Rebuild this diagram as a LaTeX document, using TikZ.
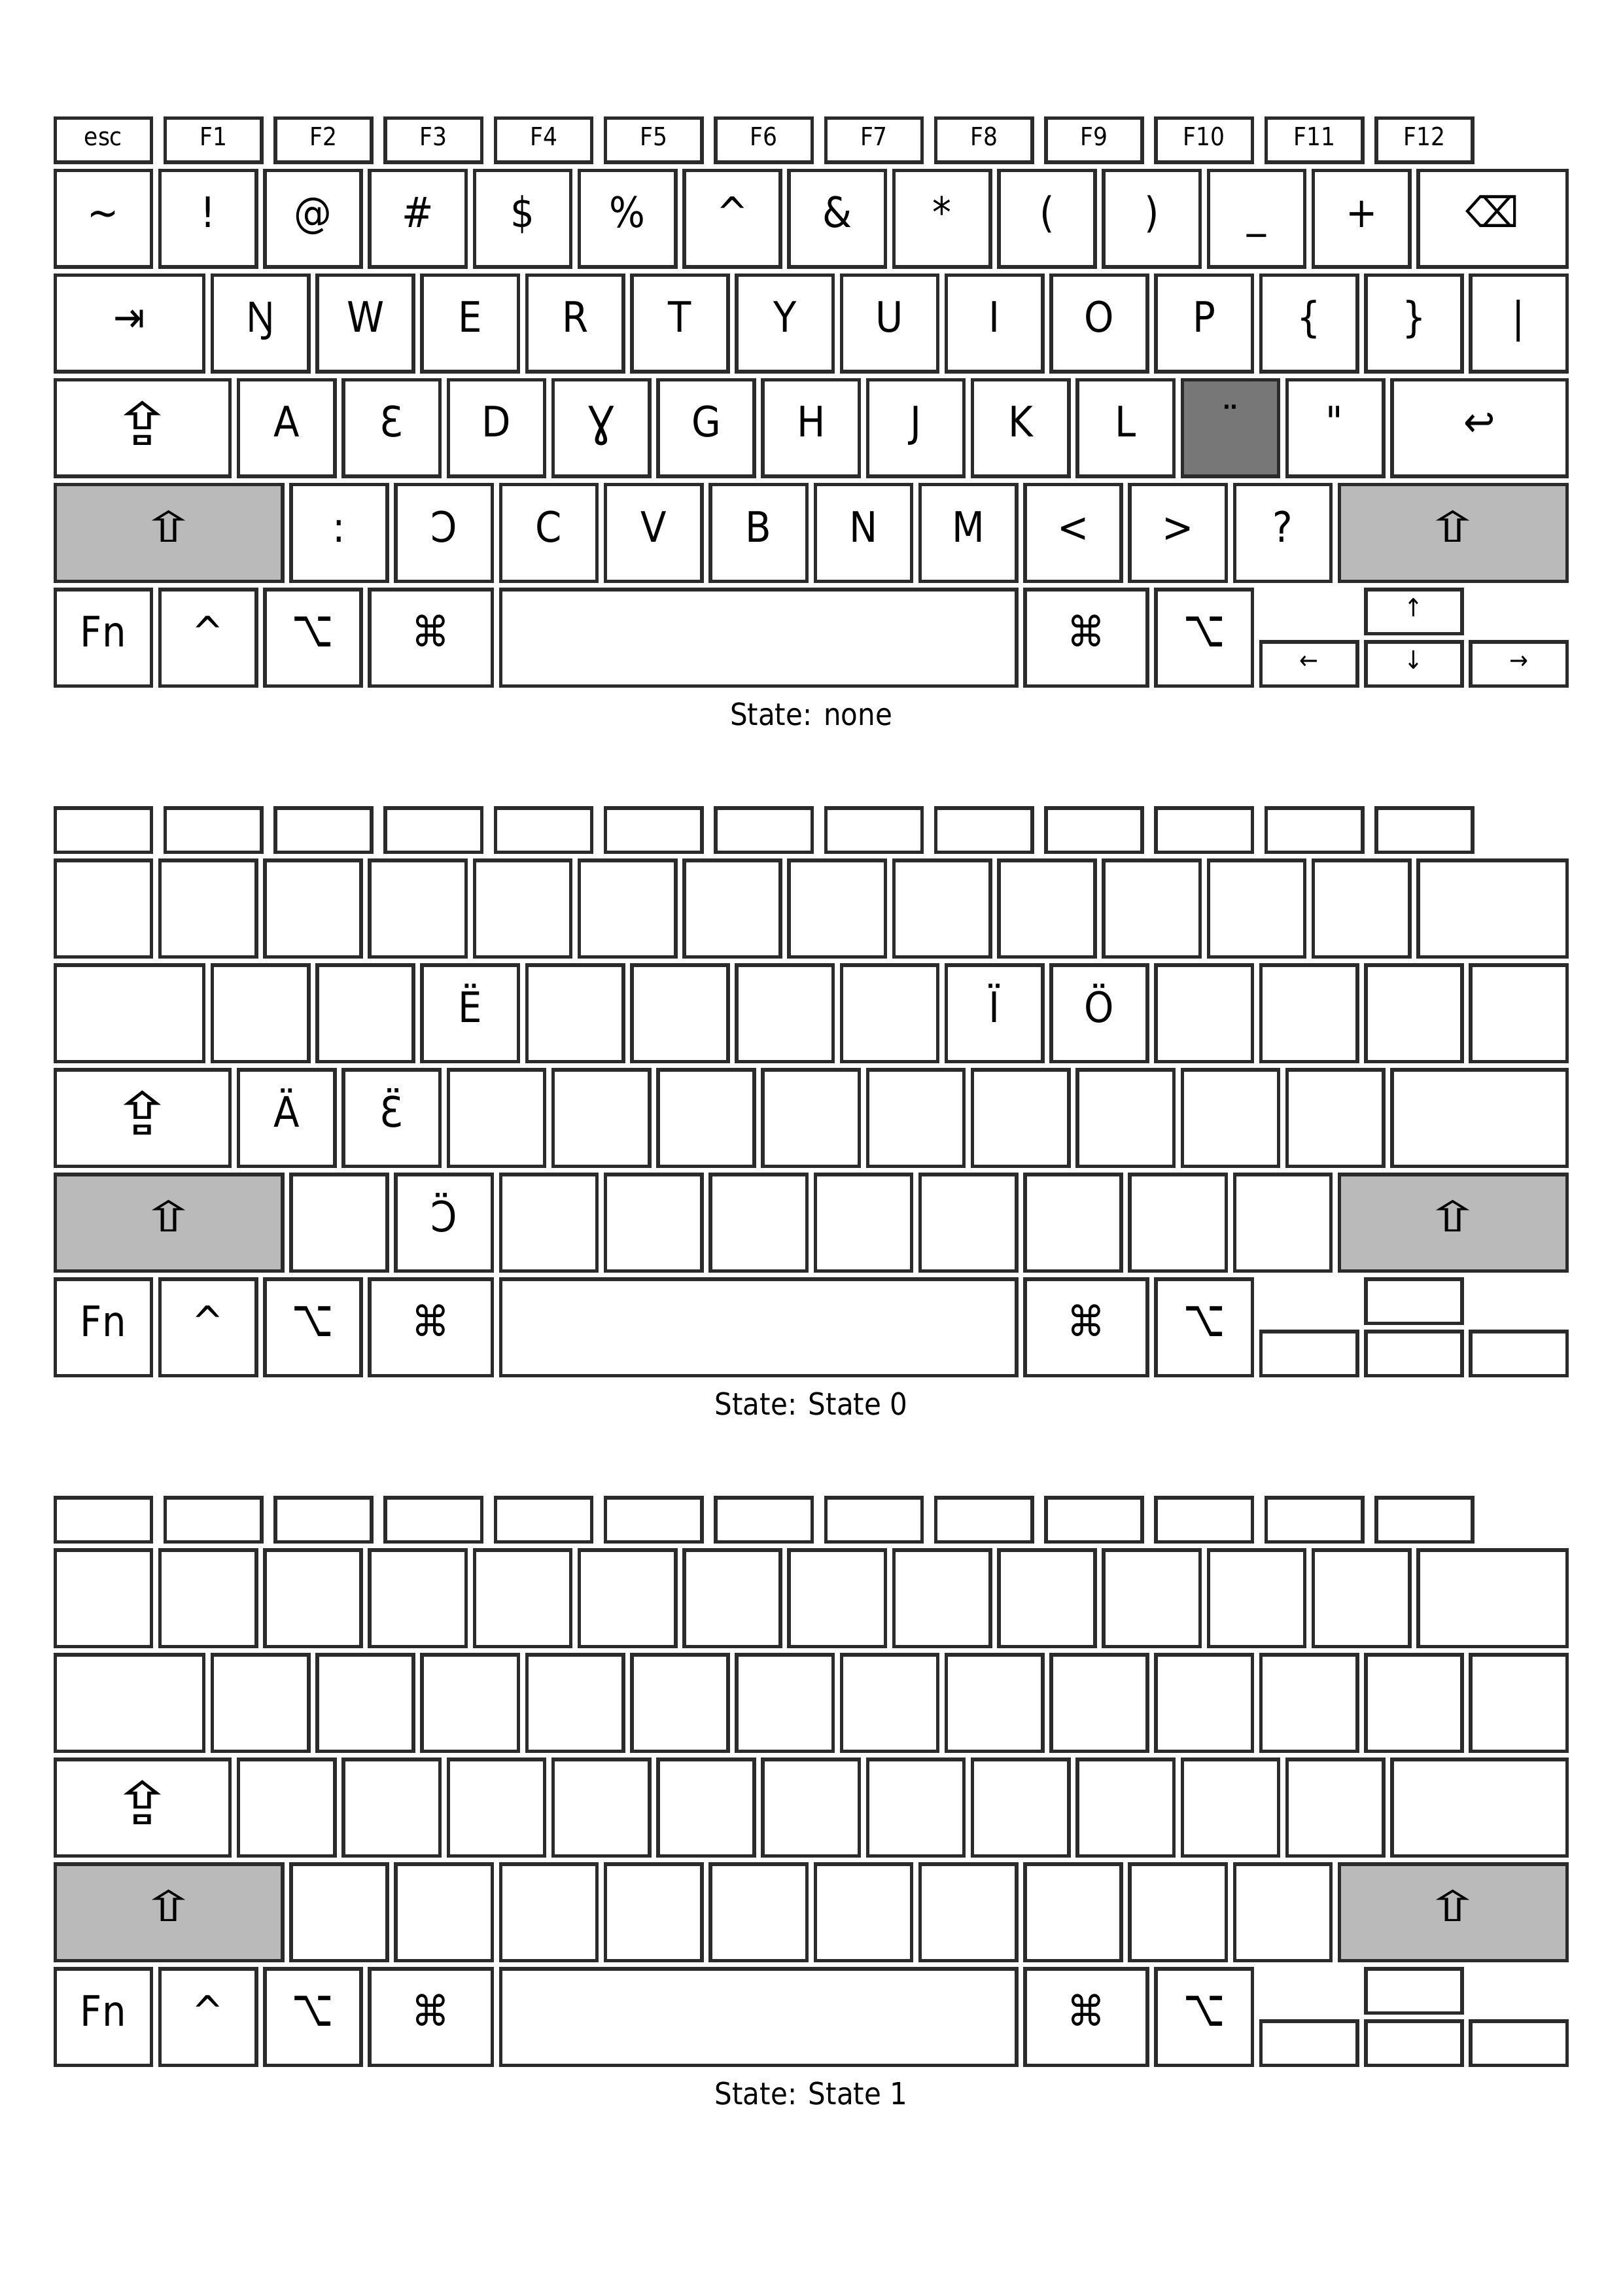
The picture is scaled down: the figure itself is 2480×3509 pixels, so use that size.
\documentclass[tikz,border=0pt]{standalone}
\usepackage{fontspec}
\usepackage{graphicx}
\setmainfont{DejaVu Sans}[FakeStretch=0.9]
\newfontfamily\engfont{Noto Sans}[FakeStretch=0.9]
\usetikzlibrary{calc}
\definecolor{keyline}{RGB}{43,43,43}
\definecolor{shiftfill}{RGB}{186,186,186}
\definecolor{deadfill}{RGB}{119,119,119}
\def\kbxo{81.5}
\def\kbu{160.28}
\def\kbgap{7.5}
\def\kblw{5.5}
\tikzset{
  keybox/.style={draw=keyline, line width=1.32pt, fill=white, inner sep=0pt, outer sep=0pt},
  shiftkey/.style={fill=shiftfill},
  deadkey/.style={fill=deadfill},
  labmain/.style={font=\fontsize{15.4}{18}\selectfont, anchor=base, inner sep=0pt, text=black},
  labsmall/.style={font=\fontsize{9.2}{11}\selectfont, anchor=base, inner sep=0pt, text=black},
  captext/.style={font=\fontsize{11.2}{13}\selectfont, anchor=base, inner sep=0pt, text=black}
}
% glyph helpers
\newcommand\shiftglyph{\scalebox{1.8}[1]{⇧}}
\newcommand\capsglyph{\raisebox{-3.1pt}{\scalebox{2}[1.4]{⇪}}}
\newcommand\optglyph{\scalebox{0.95}[1.24]{⌥}}
% key rectangle: name, column (u), width (u), outer top (px), outer height (px), style
\newcommand\mkk[6]{%
  \pgfmathsetmacro\kcx{\kbxo+(#2)*\kbu+((#3)*\kbu-\kbgap)/2}%
  \pgfmathsetmacro\kcy{(#4)+(#5)/2}%
  \pgfmathsetmacro\kww{(#3)*\kbu-\kbgap-\kblw}%
  \pgfmathsetmacro\khh{(#5)-\kblw}%
  \node[keybox,#6,minimum width=\kww*0.24pt,minimum height=\khh*0.24pt] (#1) at (\kcx,\kcy) {};%
}
\newcommand\lbl[2]{\node[labmain] (#1-t) at ($(#1.north)+(0,87.25)$) {#2};}
\newcommand\lblf[2]{\node[labsmall] (#1-t) at ($(#1.north)+(0,42.25)$) {#2};}
\newcommand\lbla[2]{\node[labsmall] (#1-t) at ($(#1.north)+(0,41.25)$) {#2};}
\newcommand\drawboard[3]{%
  \def\p{#1}\def\by{#2}%
  \mkk{\p-esc}{0}{1}{\by+178}{73}{}%
  \foreach \i in {1,...,12}{\mkk{\p-f\i}{\i*1.05}{1}{\by+178}{73}{}}%
  \foreach \i in {0,...,12}{\mkk{\p-n\i}{\i}{1}{\by+258}{153}{}}%
  \mkk{\p-bksp}{13}{1.5}{\by+258}{153}{}%
  \mkk{\p-tab}{0}{1.5}{\by+418}{153}{}%
  \foreach \i in {0,...,11}{\mkk{\p-t\i}{1.5+\i}{1}{\by+418}{153}{}}%
  \mkk{\p-bsl}{13.5}{1}{\by+418}{153}{}%
  \mkk{\p-caps}{0}{1.75}{\by+578}{153}{}%
  \foreach \i in {0,...,8,10}{\mkk{\p-c\i}{1.75+\i}{1}{\by+578}{153}{}}%
  \mkk{\p-c9}{10.75}{1}{\by+578}{153}{#3}%
  \mkk{\p-ret}{12.75}{1.75}{\by+578}{153}{}%
  \mkk{\p-lsh}{0}{2.25}{\by+738}{153}{shiftkey}%
  \foreach \i in {0,...,9}{\mkk{\p-s\i}{2.25+\i}{1}{\by+738}{153}{}}%
  \mkk{\p-rsh}{12.25}{2.25}{\by+738}{153}{shiftkey}%
  \mkk{\p-fn}{0}{1}{\by+898}{153}{}%
  \mkk{\p-ctrl}{1}{1}{\by+898}{153}{}%
  \mkk{\p-lopt}{2}{1}{\by+898}{153}{}%
  \mkk{\p-lcmd}{3}{1.25}{\by+898}{153}{}%
  \mkk{\p-space}{4.25}{5}{\by+898}{153}{}%
  \mkk{\p-rcmd}{9.25}{1.25}{\by+898}{153}{}%
  \mkk{\p-ropt}{10.5}{1}{\by+898}{153}{}%
  \mkk{\p-up}{12.5}{1}{\by+898}{73}{}%
  \mkk{\p-left}{11.5}{1}{\by+978}{73}{}%
  \mkk{\p-down}{12.5}{1}{\by+978}{73}{}%
  \mkk{\p-right}{13.5}{1}{\by+978}{73}{}%
}
\newcommand\modlabels[1]{%
  \lbl{#1-caps}{\capsglyph}\lbl{#1-lsh}{\shiftglyph}\lbl{#1-rsh}{\shiftglyph}%
  \lbl{#1-fn}{Fn}\lbl{#1-ctrl}{\textasciicircum}\lbl{#1-lopt}{\optglyph}%
  \lbl{#1-lcmd}{⌘}\lbl{#1-rcmd}{⌘}\lbl{#1-ropt}{\optglyph}%
}
\begin{document}
\begin{tikzpicture}[x=0.24pt,y=-0.24pt]
\useasboundingbox (0,0) rectangle (2480,3509);
% ---------- board 1: State none ----------
\drawboard{a}{0}{deadkey}
\lblf{a-esc}{esc}
\foreach \i in {1,...,12}{\lblf{a-f\i}{F\i}}
\lbl{a-n0}{\textasciitilde}\lbl{a-n1}{!}\lbl{a-n2}{@}\lbl{a-n3}{\#}
\lbl{a-n4}{\$}\lbl{a-n5}{\%}\lbl{a-n6}{\textasciicircum}\lbl{a-n7}{\&}
\lbl{a-n8}{*}\lbl{a-n9}{(}\lbl{a-n10}{)}\lbl{a-n11}{\_}\lbl{a-n12}{+}
\lbl{a-bksp}{⌫}
\lbl{a-tab}{⇥}
\lbl{a-t0}{\engfont Ŋ}\lbl{a-t1}{W}\lbl{a-t2}{E}\lbl{a-t3}{R}\lbl{a-t4}{T}\lbl{a-t5}{Y}
\lbl{a-t6}{U}\lbl{a-t7}{I}\lbl{a-t8}{O}\lbl{a-t9}{P}\lbl{a-t10}{\{}\lbl{a-t11}{\}}
\lbl{a-bsl}{|}
\lbl{a-c0}{A}\lbl{a-c1}{Ɛ}\lbl{a-c2}{D}\lbl{a-c3}{Ɣ}\lbl{a-c4}{G}\lbl{a-c5}{H}
\lbl{a-c6}{J}\lbl{a-c7}{K}\lbl{a-c8}{L}\lbl{a-c9}{¨}\lbl{a-c10}{\textquotedbl}
\lbl{a-ret}{↩}
\lbl{a-s0}{:}\lbl{a-s1}{Ɔ}\lbl{a-s2}{C}\lbl{a-s3}{V}\lbl{a-s4}{B}\lbl{a-s5}{N}
\lbl{a-s6}{M}\lbl{a-s7}{<}\lbl{a-s8}{>}\lbl{a-s9}{?}
\modlabels{a}
\lbla{a-up}{↑}\lbla{a-left}{←}\lbla{a-down}{↓}\lbla{a-right}{→}
\node[captext] (a-cap) at (1240,1108) {State: none};
% ---------- board 2: State 0 ----------
\drawboard{b}{1054}{}
\lbl{b-t2}{Ë}\lbl{b-t7}{Ï}\lbl{b-t8}{Ö}
\lbl{b-c0}{Ä}\lbl{b-c1}{Ɛ̈}
\lbl{b-s1}{Ɔ̈}
\modlabels{b}
\node[captext] (b-cap) at (1240,2162) {State: State 0};
% ---------- board 3: State 1 ----------
\drawboard{c}{2108}{}
\modlabels{c}
\node[captext] (c-cap) at (1240,3216) {State: State 1};
\end{tikzpicture}
\end{document}
